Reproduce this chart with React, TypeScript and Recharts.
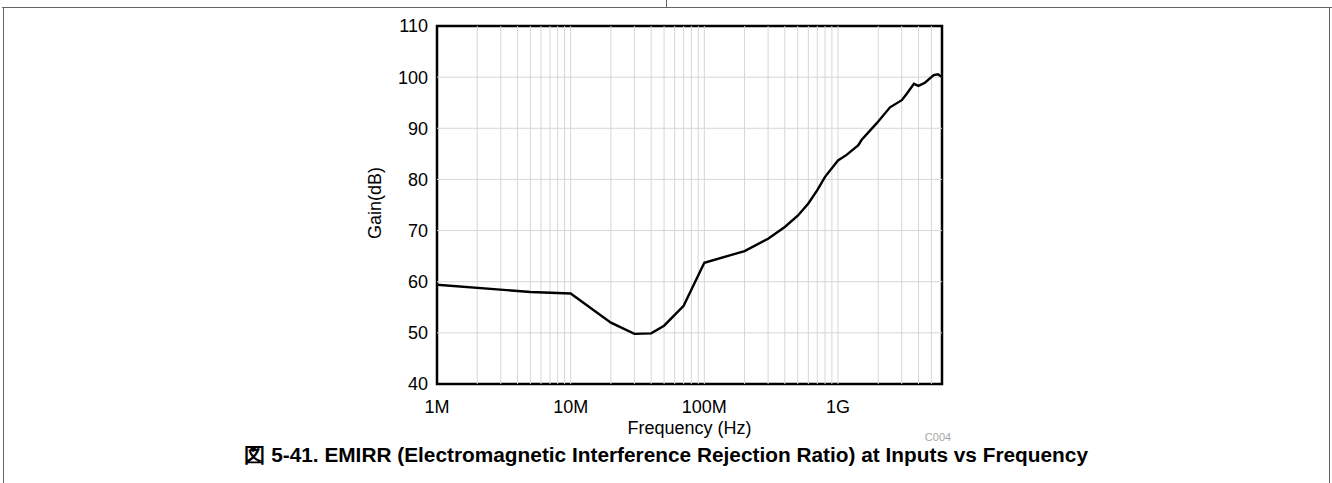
import React from 'react';
import { LineChart, Line, XAxis, YAxis, ReferenceLine, ReferenceArea } from 'recharts';

const freqs = [1e6, 5e6, 1e7, 2e7, 3e7, 4e7, 5e7, 7e7, 1e8, 2e8, 3e8, 4e8, 5e8, 6e8, 7e8, 8e8, 1e9, 1.16e9, 1.42e9, 1.5e9, 1.95e9, 2.45e9, 3e9, 3.26e9, 3.7e9, 4e9, 4.47e9, 5.2e9, 5.6e9, 6e9];
const gains = [59.4, 58.0, 57.7, 52.0, 49.8, 49.9, 51.4, 55.3, 63.7, 66.0, 68.4, 70.7, 72.9, 75.3, 77.9, 80.5, 83.7, 84.8, 86.7, 87.7, 91.0, 94.1, 95.5, 96.7, 98.7, 98.3, 98.9, 100.4, 100.55, 100.0];

const xTicks = [1e6, 1e7, 1e8, 1e9];
const xTickLabels = ['1M', '10M', '100M', '1G'];
const yTicks = [40, 50, 60, 70, 80, 90, 100, 110];
const decades = [1e6, 1e7, 1e8, 1e9];
const multipliers = [1, 2, 3, 4, 5, 6, 7, 8, 9];
const xMin = 1e6;
const xMax = 6e9;
const yMin = 40;
const yMax = 110;

const data = freqs.map((f, i) => ({ f, g: gains[i] }));
const gridX: number[] = [];
decades.forEach((d) => multipliers.forEach((m) => {
  const v = d * m;
  if (v > xMin && v < xMax) gridX.push(v);
}));
const gridY = yTicks.filter((v) => v > yMin && v < yMax);

const FONT = '"Liberation Sans", Arial, sans-serif';

export default function App() {
  return (
    <div style={{ position: 'absolute', left: 0, top: 0, width: 1332, height: 483, background: '#fff' }}>
      <LineChart width={1332} height={483} data={data} margin={{ top: 26, right: 390, bottom: 0, left: 0 }}>
        <XAxis
          dataKey="f"
          type="number"
          scale="log"
          domain={[xMin, xMax]}
          ticks={xTicks}
          interval={0}
          allowDataOverflow
          axisLine={false}
          tickLine={false}
          tickSize={0}
          tickMargin={16}
          height={99}
          tickFormatter={(v: number) => xTickLabels[xTicks.indexOf(v)] ?? ''}
          tick={{ fontSize: 18, fill: '#000', fontFamily: FONT }}
          label={{ value: 'Frequency (Hz)', position: 'insideTop', offset: 37, fontSize: 18, fill: '#000', fontFamily: FONT }}
        />
        <YAxis
          type="number"
          domain={[yMin, yMax]}
          ticks={yTicks}
          interval={0}
          allowDataOverflow
          axisLine={false}
          tickLine={false}
          tickSize={0}
          tickMargin={9}
          width={437}
          tick={{ fontSize: 18, fill: '#000', fontFamily: FONT }}
          label={{
            content: (props: any) => {
              const vb = props.viewBox || {};
              const cx = (vb.x ?? 0) + (vb.width ?? 0) - 62.5;
              const cy = (vb.y ?? 0) + (vb.height ?? 0) / 2 - 2;
              return (
                <text x={cx} y={cy} transform={`rotate(-90 ${cx} ${cy})`} textAnchor="middle" dominantBaseline="central"
                  fontSize={18} fill="#000" fontFamily={FONT}>Gain(dB)</text>
              );
            },
          }}
        />
        {gridX.map((v) => (
          <ReferenceLine key={'gx' + v} x={v} stroke="#d6d6d6" strokeWidth={1} />
        ))}
        {gridY.map((v) => (
          <ReferenceLine key={'gy' + v} y={v} stroke="#d6d6d6" strokeWidth={1} />
        ))}
        <Line type="linear" dataKey="g" stroke="#000" strokeWidth={2.4} dot={false} isAnimationActive={false} />
        <ReferenceArea x1={xMin} x2={xMax} y1={yMin} y2={yMax} fill="none" stroke="#000" strokeWidth={2.5} fillOpacity={0} />
      </LineChart>
      <svg width={1332} height={483} style={{ position: 'absolute', left: 0, top: 0, pointerEvents: 'none' }}>
        <line x1={2} y1={7.5} x2={1332} y2={7.5} stroke="#666" strokeWidth={1} />
        <line x1={666.5} y1={0} x2={666.5} y2={7.5} stroke="#666" strokeWidth={1} />
        <line x1={3.5} y1={7.5} x2={3.5} y2={483} stroke="#666" strokeWidth={1} />
        <line x1={1329.5} y1={7.5} x2={1329.5} y2={483} stroke="#666" strokeWidth={1} />
        <text x={938} y={441} textAnchor="middle" fontSize={11} fill="#a6a6a6" fontFamily={FONT}>C004</text>
        <text x={244} y={462} textLength={844} lengthAdjust="spacingAndGlyphs" fontSize={19.5} fontWeight="bold" fill="#000" fontFamily={FONT}>図 5-41. EMIRR (Electromagnetic Interference Rejection Ratio) at Inputs vs Frequency</text>
      </svg>
    </div>
  );
}
